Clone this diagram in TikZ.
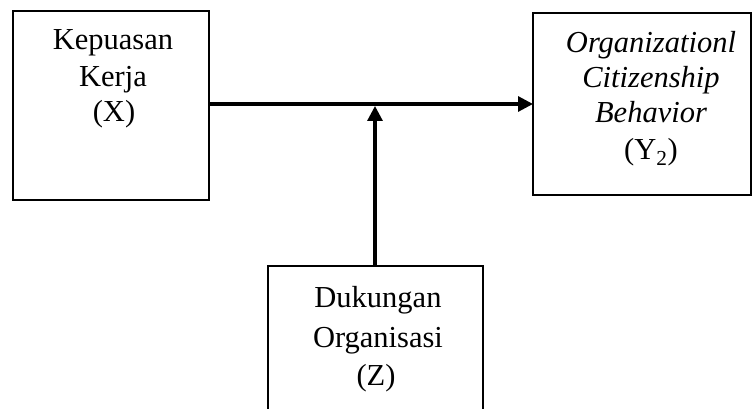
\documentclass[tikz,border=0pt]{standalone}
\usepackage{fontspec}
\setmainfont{Liberation Serif}
\usetikzlibrary{arrows.meta}
\begin{document}
\begin{tikzpicture}[x=1pt,y=-1pt,
  box/.style={draw=black,line width=1.8pt,fill=none},
  label/.style={anchor=base,inner sep=0pt,font=\fontsize{30.5}{36}\selectfont},
  link/.style={line width=3.2pt,-{Triangle[length=15pt,width=15pt]}}]
\useasboundingbox (0,0) rectangle (753,409);
\clip (0,0) rectangle (753,409);

% boxes
\draw[box] (13,11) rectangle (209,200);
\draw[box] (533,13) rectangle (751,195);
\draw[box] (268,266) rectangle (483,430);

\coordinate (xr) at (209,104);
\coordinate (yl) at (533,104);
\coordinate (zt) at (375,266);
\coordinate (mid) at (375,106);

% Kepuasan Kerja (X)
\node[label] (x1) at (113,50) {Kepuasan};
\node[label] (x2) at (113,87) {Kerja};
\node[label] (x3) at (114,122) {(X)};

% Organizational Citizenship Behavior (Y2)
\node[label] (y1) at (651,53) {\itshape Organizationl};
\node[label] (y2) at (651,88) {\itshape Citizenship};
\node[label] (y3) at (651,123) {\itshape Behavior};
\node[label] (y4) at (651,160) {(Y\textsubscript{2})};

% Dukungan Organisasi (Z)
\node[label] (z1) at (378,307) {Dukungan};
\node[label] (z2) at (378,347) {Organisasi};
\node[label] (z3) at (376,385) {(Z)};

% connectors
\draw[link] (xr) -- (yl);
\draw[link] (zt) -- (mid);
\end{tikzpicture}
\end{document}
